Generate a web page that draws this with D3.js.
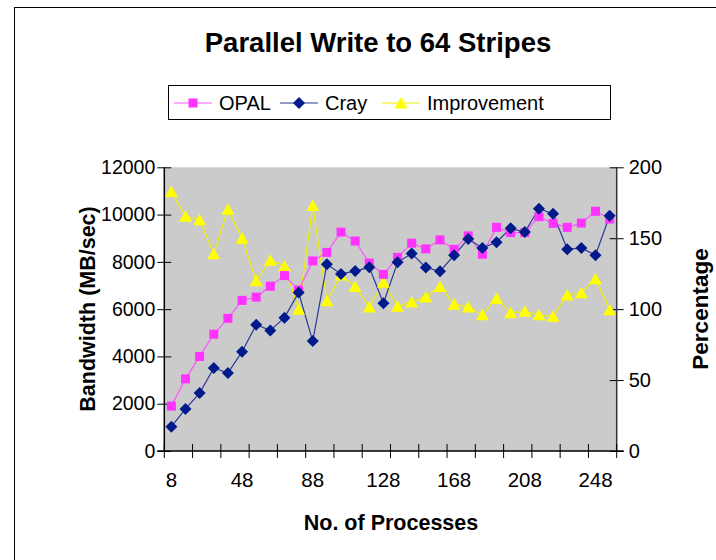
<!DOCTYPE html>
<html>
<head>
<meta charset="utf-8">
<script src="https://cdn.jsdelivr.net/npm/d3@7"></script>
<style>
  html, body { margin: 0; padding: 0; background: #fff; }
  svg { display: block; font-family: "Liberation Sans", Arial, sans-serif; }
</style>
</head>
<body>
<svg id="chart" width="716" height="560"></svg>
<script>
// Number of processes (category axis)
const categories = [8, 16, 24, 32, 40, 48, 56, 64, 72, 80, 88, 96, 104, 112, 120, 128,
                    136, 144, 152, 160, 168, 176, 184, 192, 200, 208, 216, 224, 232, 240, 248, 256];
// Bandwidth, MB/sec
const opal = [1900, 3050, 4000, 4940, 5610, 6370, 6510, 6970, 7420, 6810, 8040, 8400, 9260, 8880, 7950, 7470,
              8190, 8790, 8550, 8930, 8530, 9100, 8320, 9460, 9240, 9240, 9910, 9630, 9460, 9640, 10140, 9810];
const cray = [1030, 1780, 2450, 3510, 3300, 4200, 5340, 5100, 5640, 6700, 4650, 7900, 7490, 7610, 7770, 6250,
              7980, 8350, 7760, 7600, 8280, 8970, 8590, 8830, 9420, 9260, 10250, 10040, 8530, 8590, 8280, 9950];
// Improvement, percent (secondary axis)
const improvement = [183, 165.5, 163, 139, 170.5, 150, 120, 134.5, 130.5, 100, 173, 106, 124, 116, 101.5, 119,
                     102, 105, 108.5, 116, 103.5, 101.5, 96, 107.5, 97.5, 98.5, 96, 95, 110, 111.5, 121.5, 99.5];
const leftTicks = [0, 2000, 4000, 6000, 8000, 10000, 12000];
const rightTicks = [0, 50, 100, 150, 200];
const xLabels = [8, 48, 88, 128, 168, 208, 248];

const svg = d3.select("#chart");
const plot = { left: 164.3, right: 616.7, top: 167.3, bottom: 451 };
const FONT = "Liberation Sans, Arial, sans-serif";

// outer chart frame
svg.append("rect").attr("x", 14.5).attr("y", 7.5).attr("width", 720).attr("height", 580)
  .attr("fill", "#fff").attr("stroke", "#000").attr("stroke-width", 1);

const x = d3.scaleBand().domain(categories).range([plot.left, plot.right]).paddingInner(0).paddingOuter(0);
const cx = d => x(d) + x.bandwidth() / 2;
const yL = d3.scaleLinear().domain([0, 12000]).range([plot.bottom, plot.top]);
const yR = d3.scaleLinear().domain([0, 200]).range([plot.bottom, plot.top]);

// plot area
svg.append("rect").attr("x", plot.left).attr("y", plot.top)
  .attr("width", plot.right - plot.left).attr("height", plot.bottom - plot.top)
  .attr("fill", "#cbcbcb");

// title
svg.append("text").attr("x", 378).attr("y", 52).attr("text-anchor", "middle")
  .attr("font-size", 27.5).attr("font-weight", "bold").text("Parallel Write to 64 Stripes");

// left axis
const gL = svg.append("g").attr("transform", `translate(${plot.left},0)`)
  .call(d3.axisLeft(yL).tickValues(leftTicks).tickSize(7).tickPadding(2).tickFormat(d3.format("d")));
gL.select(".domain").remove();
gL.selectAll(".tick line").attr("x1", -7).attr("x2", 7).attr("stroke", "#000");
gL.selectAll(".tick text").attr("font-size", 19.5).attr("fill", "#000").attr("font-family", FONT);
svg.append("line").attr("x1", plot.left).attr("x2", plot.left).attr("y1", plot.top).attr("y2", plot.bottom)
  .attr("stroke", "#000").attr("stroke-width", 1.5);

// right axis
const gR = svg.append("g").attr("transform", `translate(${plot.right},0)`)
  .call(d3.axisRight(yR).tickValues(rightTicks).tickSize(7).tickPadding(5));
gR.select(".domain").remove();
gR.selectAll(".tick line").attr("x1", -7).attr("x2", 7).attr("stroke", "#000");
gR.selectAll(".tick text").attr("font-size", 20).attr("fill", "#000").attr("font-family", FONT);
svg.append("line").attr("x1", plot.right).attr("x2", plot.right).attr("y1", plot.top).attr("y2", plot.bottom)
  .attr("stroke", "#333340").attr("stroke-width", 1.5);

// bottom axis: labels every fifth category, tick marks every second category boundary
const gB = svg.append("g").attr("transform", `translate(0,${plot.bottom})`)
  .call(d3.axisBottom(x).tickValues(xLabels).tickSize(0).tickPadding(21));
gB.select(".domain").remove();
gB.selectAll(".tick text").attr("font-size", 20.5).attr("fill", "#000").attr("font-family", FONT);
const boundaries = categories.filter((d, i) => i % 2 === 0).map(d => x(d)).concat([plot.right]);
svg.append("g").selectAll("line").data(boundaries).join("line")
  .attr("x1", d => d).attr("x2", d => d).attr("y1", plot.bottom - 7).attr("y2", plot.bottom + 7)
  .attr("stroke", "#000");
svg.append("line").attr("x1", plot.left - 7).attr("x2", plot.right + 7).attr("y1", plot.bottom).attr("y2", plot.bottom)
  .attr("stroke", "#000").attr("stroke-width", 1.5);

// axis titles
svg.append("text").attr("x", 391).attr("y", 530).attr("text-anchor", "middle")
  .attr("font-size", 21.5).attr("font-weight", "bold").text("No. of Processes");
svg.append("text").attr("transform", "translate(95,309) rotate(-90)").attr("text-anchor", "middle")
  .attr("font-size", 21.5).attr("font-weight", "bold").text("Bandwidth (MB/sec)");
svg.append("text").attr("transform", "translate(708,309) rotate(-90)").attr("text-anchor", "middle")
  .attr("font-size", 22.5).attr("font-weight", "bold").text("Percentage");

// marker shapes
const shapes = {
  square: "M-4.5,-4.5H4.5V4.5H-4.5Z",
  diamond: "M0,-6L6,0L0,6L-6,0Z",
  triangle: "M0,-6L6.5,5.5L-6.5,5.5Z"
};

const series = [
  { name: "OPAL", values: opal, y: yL, line: "#ff55ff", fill: "#ff33ff", shape: "square" },
  { name: "Cray", values: cray, y: yL, line: "#2a3a94", fill: "#001a8c", shape: "diamond" },
  { name: "Improvement", values: improvement, y: yR, line: "#f0f000", fill: "#ffff00", shape: "triangle" }
];
const drawOrder = [series[2], series[0], series[1]];

drawOrder.forEach(s => {
  const line = d3.line().x((d, i) => cx(categories[i])).y(d => s.y(d));
  svg.append("path").datum(s.values).attr("d", line).attr("fill", "none")
    .attr("stroke", s.line).attr("stroke-width", 1.2);
});
drawOrder.forEach(s => {
  svg.append("g").selectAll("path").data(s.values).join("path")
    .attr("d", shapes[s.shape])
    .attr("transform", (d, i) => `translate(${cx(categories[i])},${s.y(d)})`)
    .attr("fill", s.fill);
});

// legend
const lg = svg.append("g");
lg.append("rect").attr("x", 168.5).attr("y", 85.5).attr("width", 442).attr("height", 34)
  .attr("fill", "#fff").attr("stroke", "#000");
const legendX = [174, 280, 382];
series.forEach((s, i) => {
  const g = lg.append("g").attr("transform", `translate(${legendX[i]},103)`);
  g.append("line").attr("x1", 0).attr("x2", 38).attr("stroke", s.line).attr("stroke-width", 1.2);
  g.append("path").attr("d", shapes[s.shape]).attr("transform", "translate(19,0)").attr("fill", s.fill);
  g.append("text").attr("x", 45).attr("y", 7).attr("font-size", 20).text(s.name);
});
</script>
</body>
</html>
